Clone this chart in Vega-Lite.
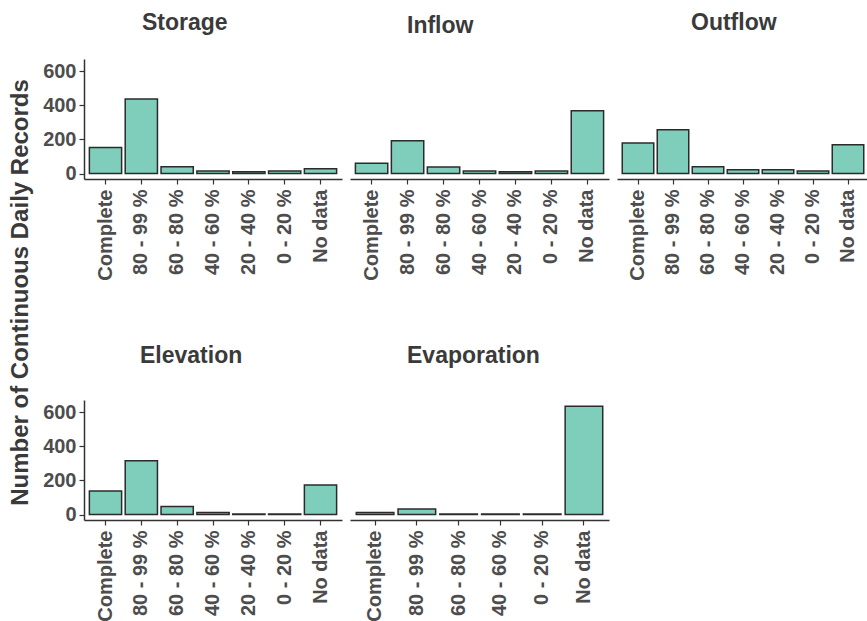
{
  "$schema": "https://vega.github.io/schema/vega-lite/v6.json",
  "padding": {"left": 8, "top": 12, "right": 0, "bottom": 0},
  "background": "white",
  "datasets": {
    "d": [
      {"variable": "Storage", "category": "Complete", "count": 153},
      {"variable": "Storage", "category": "80 - 99 %", "count": 437},
      {"variable": "Storage", "category": "60 - 80 %", "count": 40},
      {"variable": "Storage", "category": "40 - 60 %", "count": 15},
      {"variable": "Storage", "category": "20 - 40 %", "count": 10},
      {"variable": "Storage", "category": "0 - 20 %", "count": 15},
      {"variable": "Storage", "category": "No data", "count": 28},
      {"variable": "Inflow", "category": "Complete", "count": 61},
      {"variable": "Inflow", "category": "80 - 99 %", "count": 192},
      {"variable": "Inflow", "category": "60 - 80 %", "count": 38},
      {"variable": "Inflow", "category": "40 - 60 %", "count": 15},
      {"variable": "Inflow", "category": "20 - 40 %", "count": 10},
      {"variable": "Inflow", "category": "0 - 20 %", "count": 15},
      {"variable": "Inflow", "category": "No data", "count": 369},
      {"variable": "Outflow", "category": "Complete", "count": 179},
      {"variable": "Outflow", "category": "80 - 99 %", "count": 257},
      {"variable": "Outflow", "category": "60 - 80 %", "count": 40},
      {"variable": "Outflow", "category": "40 - 60 %", "count": 22},
      {"variable": "Outflow", "category": "20 - 40 %", "count": 22},
      {"variable": "Outflow", "category": "0 - 20 %", "count": 15},
      {"variable": "Outflow", "category": "No data", "count": 169},
      {"variable": "Elevation", "category": "Complete", "count": 138},
      {"variable": "Elevation", "category": "80 - 99 %", "count": 315},
      {"variable": "Elevation", "category": "60 - 80 %", "count": 47},
      {"variable": "Elevation", "category": "40 - 60 %", "count": 12},
      {"variable": "Elevation", "category": "20 - 40 %", "count": 3},
      {"variable": "Elevation", "category": "0 - 20 %", "count": 3},
      {"variable": "Elevation", "category": "No data", "count": 173},
      {"variable": "Evaporation", "category": "Complete", "count": 12},
      {"variable": "Evaporation", "category": "80 - 99 %", "count": 33},
      {"variable": "Evaporation", "category": "60 - 80 %", "count": 3},
      {"variable": "Evaporation", "category": "40 - 60 %", "count": 3},
      {"variable": "Evaporation", "category": "0 - 20 %", "count": 3},
      {"variable": "Evaporation", "category": "No data", "count": 636}
    ]
  },
  "config": {
    "view": {"stroke": null},
    "font": "Liberation Sans",
    "title": {"font": "Liberation Sans", "fontSize": 23, "fontWeight": "bold", "color": "#3a3a3a", "anchor": "start", "frame": "group", "baseline": "alphabetic"},
    "axis": {"labelFont": "Liberation Sans", "labelFontSize": 20, "labelFontWeight": "bold", "labelColor": "#4d4d4d", "domainColor": "#333333", "domainWidth": 1.5, "tickColor": "#333333", "tickWidth": 1.2, "tickSize": 5, "grid": false, "title": null, "labelPadding": 3},
    "axisX": {"labelAngle": -90, "labelAlign": "right", "labelBaseline": "middle", "labelPadding": 5},
    "bar": {"fill": "#7fcdbb", "stroke": "#2b2b2b", "strokeWidth": 1.5}
  },
  "columns": 3,
  "align": "each",
  "bounds": "flush",
  "spacing": {"row": 221, "column": 8},
  "concat": [
    {
      "title": {"text": "Storage", "dx": 58, "offset": 24},
      "width": 258, "height": 120,
      "data": {"name": "d"},
      "transform": [{"filter": "datum.variable === 'Storage'"}],
      "mark": {"type": "bar"},
      "encoding": {
        "x": {"field": "category", "type": "nominal", "sort": ["Complete", "80 - 99 %", "60 - 80 %", "40 - 60 %", "20 - 40 %", "0 - 20 %", "No data"], "scale": {"paddingInner": 0.1, "paddingOuter": 0.15}},
        "y": {"field": "count", "type": "quantitative", "scale": {"domain": [-32, 672], "nice": false}, "axis": {"values": [0, 200, 400, 600], "title": "Number of Continuous Daily Records", "titleFont": "Liberation Sans", "titleFontSize": 24, "titleFontWeight": "bold", "titleColor": "#3a3a3a", "titleY": 233, "titleAnchor": "middle", "titleAlign": "center", "titlePadding": 10}}
      }
    },
    {
      "title": {"text": "Inflow", "dx": 57, "offset": 21},
      "width": 259, "height": 120,
      "data": {"name": "d"},
      "transform": [{"filter": "datum.variable === 'Inflow'"}],
      "mark": {"type": "bar"},
      "encoding": {
        "x": {"field": "category", "type": "nominal", "sort": ["Complete", "80 - 99 %", "60 - 80 %", "40 - 60 %", "20 - 40 %", "0 - 20 %", "No data"], "scale": {"paddingInner": 0.1, "paddingOuter": 0.15}},
        "y": {"field": "count", "type": "quantitative", "scale": {"domain": [-32, 672], "nice": false}, "axis": null}
      }
    },
    {
      "title": {"text": "Outflow", "dx": 74, "offset": 24},
      "width": 252, "height": 120,
      "data": {"name": "d"},
      "transform": [{"filter": "datum.variable === 'Outflow'"}],
      "mark": {"type": "bar"},
      "encoding": {
        "x": {"field": "category", "type": "nominal", "sort": ["Complete", "80 - 99 %", "60 - 80 %", "40 - 60 %", "20 - 40 %", "0 - 20 %", "No data"], "scale": {"paddingInner": 0.1, "paddingOuter": 0.15}},
        "y": {"field": "count", "type": "quantitative", "scale": {"domain": [-32, 672], "nice": false}, "axis": null}
      }
    },
    {
      "title": {"text": "Elevation", "dx": 56, "offset": 32},
      "width": 258, "height": 120,
      "data": {"name": "d"},
      "transform": [{"filter": "datum.variable === 'Elevation'"}],
      "mark": {"type": "bar"},
      "encoding": {
        "x": {"field": "category", "type": "nominal", "sort": ["Complete", "80 - 99 %", "60 - 80 %", "40 - 60 %", "20 - 40 %", "0 - 20 %", "No data"], "scale": {"paddingInner": 0.1, "paddingOuter": 0.15}},
        "y": {"field": "count", "type": "quantitative", "scale": {"domain": [-32, 672], "nice": false}, "axis": {"values": [0, 200, 400, 600]}}
      }
    },
    {
      "title": {"text": "Evaporation", "dx": 57, "offset": 32},
      "width": 259, "height": 120,
      "data": {"name": "d"},
      "transform": [{"filter": "datum.variable === 'Evaporation'"}],
      "mark": {"type": "bar"},
      "encoding": {
        "x": {"field": "category", "type": "nominal", "sort": ["Complete", "80 - 99 %", "60 - 80 %", "40 - 60 %", "0 - 20 %", "No data"], "scale": {"paddingInner": 0.1, "paddingOuter": 0.15}},
        "y": {"field": "count", "type": "quantitative", "scale": {"domain": [-32, 672], "nice": false}, "axis": null}
      }
    }
  ]
}
